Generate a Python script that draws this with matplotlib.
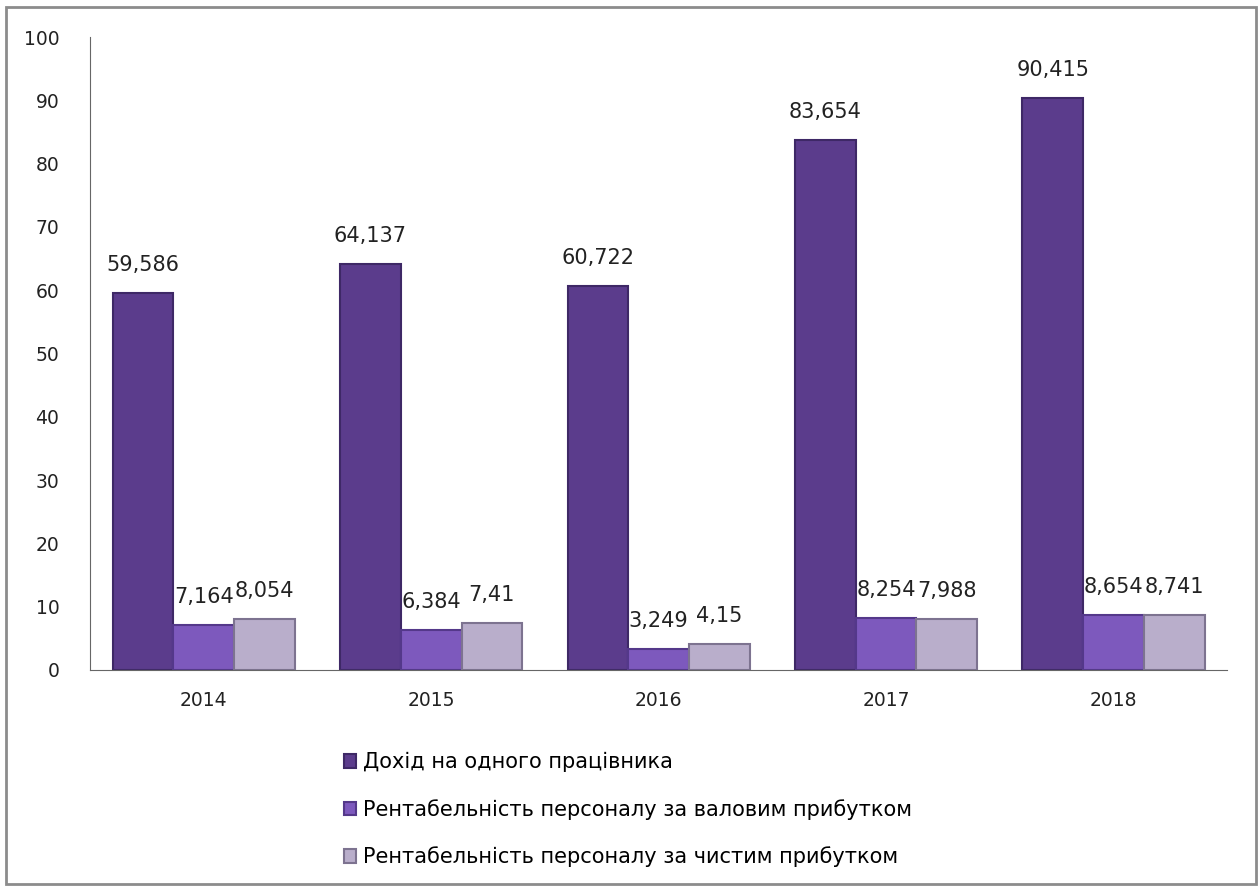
import numpy as np
import matplotlib
matplotlib.use('Agg')
import matplotlib.pyplot as plt
from matplotlib.patches import Rectangle

plt.rcParams['font.family'] = ['DejaVu Sans']

# Дані
years = ['2014', '2015', '2016', '2017', '2018']
dohid = [59.586, 64.137, 60.722, 83.654, 90.415]
rent_val = [7.164, 6.384, 3.249, 8.254, 8.654]
rent_chyst = [8.054, 7.41, 4.15, 7.988, 8.741]
series_names = ['Дохід на одного працівника',
                'Рентабельність персоналу за валовим прибутком',
                'Рентабельність персоналу за чистим прибутком']
colors = ['#5b3c8c', '#7d59bd', '#b9aecb']
edges = ['#3e2866', '#54388a', '#7d7390']

fig = plt.figure(figsize=(12.6, 8.88), dpi=100)
ax = fig.add_axes([0.0714, 0.2455, 0.9026, 0.7128])

x = np.arange(len(years))
w = 0.267
series = [dohid, rent_val, rent_chyst]
for i, vals in enumerate(series):
    pos = x + (i - 1) * w
    bars = ax.bar(pos, vals, w, color=colors[i], edgecolor=edges[i],
                  linewidth=1.5, label=series_names[i], zorder=2)
    for b, v in zip(bars, vals):
        txt = f'{v:g}'.replace('.', ',')
        ax.annotate(txt, (b.get_x() + b.get_width() / 2, v),
                    xytext=(0, 13), textcoords='offset points',
                    ha='center', va='bottom', fontsize=15, color='#222222')

ax.set_xlim(-0.5, 4.5)
ax.set_ylim(0, 100)
ax.set_yticks(range(0, 101, 10))
ax.set_xticks(x)
ax.set_xticklabels(years)
ax.tick_params(axis='both', length=0, labelsize=13.5, colors='#222222')
ax.tick_params(axis='y', pad=22)
ax.tick_params(axis='x', pad=15)
for s in ['top', 'right']:
    ax.spines[s].set_visible(False)
ax.spines['left'].set_color('#666666')
ax.spines['bottom'].set_color('#666666')

leg = fig.legend(loc='upper left', bbox_to_anchor=(0.258, 0.174), frameon=False,
                 fontsize=15, labelspacing=1.28, handlelength=0.6,
                 handleheight=0.6, handletextpad=0.3)

# рамка навколо рисунка
fig.patches.append(Rectangle((0.005, 0.004), 0.992, 0.988, transform=fig.transFigure,
                             fill=False, edgecolor='#8c8c8c', linewidth=2))

fig.savefig('out.png', dpi=100)
